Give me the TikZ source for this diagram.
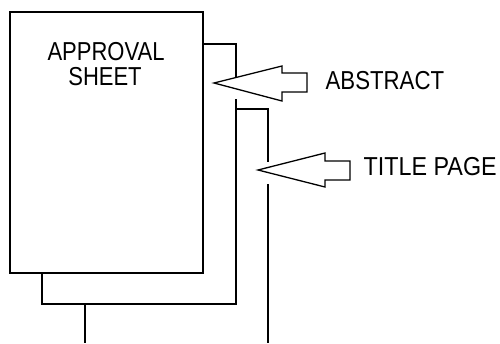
\documentclass[tikz,border=0pt]{standalone}
\usepackage{fontspec}
\setmainfont{Liberation Sans}
\begin{document}
\begin{tikzpicture}[x=1pt,y=-1pt,line width=1.3pt,
  edge/.style={draw=black,line join=miter,line cap=butt},
  blockarrow/.style={draw=black,fill=white,line join=miter},
  lbl/.style={font=\fontsize{22}{25}\selectfont,inner sep=0pt}]
\useasboundingbox (0,0) rectangle (500,343);
% front sheet
\draw[edge] (10,12) rectangle (203,273);
% second sheet (abstract)
\draw[edge] (203,44) -- (236,44) -- (236,77);
\draw[edge] (236,99) -- (236,304) -- (42,304) -- (42,273);
% third sheet (title page)
\draw[edge] (236,109) -- (268,109) -- (268,162);
\draw[edge] (268,184) -- (268,343);
\draw[edge] (85,304) -- (85,343);
% arrows
\draw[blockarrow] (214,83) -- (282,66) -- (282,73) -- (307,73) -- (307,92) -- (282,92) -- (282,101) -- cycle;
\draw[blockarrow] (258,170) -- (325,153) -- (325,161) -- (350,161) -- (350,180) -- (325,180) -- (325,187) -- cycle;
% labels
\node[lbl] (t1) at (106,51.5) {\scalebox{1}[1.18]{APPROVAL}};
\node[lbl] (t2) at (105,76.5) {\scalebox{1}[1.18]{SHEET}};
\node[lbl,anchor=west] (t3) at (325,81) {\scalebox{1.01}[1.18]{ABSTRACT}};
\node[lbl,anchor=west] (t4) at (363,167) {\scalebox{1.06}[1.18]{TITLE PAGE}};
\end{tikzpicture}
\end{document}
